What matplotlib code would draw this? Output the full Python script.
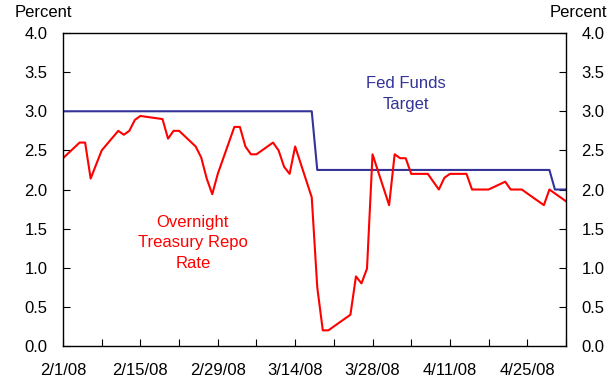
import numpy as np
import pandas as pd
import matplotlib
matplotlib.use('Agg')
import matplotlib.pyplot as plt
import matplotlib.dates as mdates
from matplotlib.ticker import MultipleLocator, FormatStrFormatter, FixedLocator

plt.rcParams['font.family'] = ['Liberation Sans', 'DejaVu Sans']

# business days, Feb 1 - May 2 2008 (Feb 18 and Mar 21 closed)
dates = pd.to_datetime([
    '2008-02-01', '2008-02-04', '2008-02-05', '2008-02-06', '2008-02-07', '2008-02-08',
    '2008-02-11', '2008-02-12', '2008-02-13', '2008-02-14', '2008-02-15',
    '2008-02-19', '2008-02-20', '2008-02-21', '2008-02-22',
    '2008-02-25', '2008-02-26', '2008-02-27', '2008-02-28', '2008-02-29',
    '2008-03-03', '2008-03-04', '2008-03-05', '2008-03-06', '2008-03-07',
    '2008-03-10', '2008-03-11', '2008-03-12', '2008-03-13', '2008-03-14',
    '2008-03-17', '2008-03-18', '2008-03-19', '2008-03-20',
    '2008-03-24', '2008-03-25', '2008-03-26', '2008-03-27', '2008-03-28',
    '2008-03-31', '2008-04-01', '2008-04-02', '2008-04-03', '2008-04-04',
    '2008-04-07', '2008-04-08', '2008-04-09', '2008-04-10', '2008-04-11',
    '2008-04-14', '2008-04-15', '2008-04-16', '2008-04-17', '2008-04-18',
    '2008-04-21', '2008-04-22', '2008-04-23', '2008-04-24', '2008-04-25',
    '2008-04-28', '2008-04-29', '2008-04-30', '2008-05-01', '2008-05-02',
])

repo_rate = [
    2.40, 2.60, 2.60, 2.14, 2.32, 2.50,
    2.75, 2.70, 2.75, 2.89, 2.94,
    2.90, 2.65, 2.75, 2.75,
    2.55, 2.41, 2.14, 1.94, 2.20,
    2.80, 2.80, 2.55, 2.45, 2.45,
    2.60, 2.50, 2.29, 2.20, 2.55,
    1.90, 0.75, 0.20, 0.20,
    0.40, 0.89, 0.80, 0.99, 2.45,
    1.80, 2.45, 2.40, 2.40, 2.20,
    2.20, 2.10, 2.00, 2.15, 2.20,
    2.20, 2.00, 2.00, 2.00, 2.00,
    2.10, 2.00, 2.00, 2.00, 1.95,
    1.80, 2.00, 1.95, 1.90, 1.85,
]

fed_target = [3.00] * 31 + [2.25] * 30 + [2.00] * 3

tick_dates = pd.date_range('2008-02-01', '2008-04-25', freq='14D')
week_dates = pd.date_range('2008-02-01', '2008-05-02', freq='7D')

red = '#ff0000'
blue = '#333399'

fig = plt.figure(figsize=(6.16, 3.87), dpi=100)
ax = fig.add_axes([0.1023, 0.1059, 0.8165, 0.8088])

ax.plot(dates, fed_target, color=blue, lw=1.5)
ax.plot(dates, repo_rate, color=red, lw=1.5)

ax.set_xlim(pd.Timestamp('2008-02-01'), pd.Timestamp('2008-05-02'))
ax.set_ylim(0, 4)

ax.set_xticks(tick_dates)
ax.set_xticklabels(['{}/{}/{}'.format(d.month, d.day, d.strftime('%y')) for d in tick_dates])
ax.xaxis.set_minor_locator(FixedLocator(mdates.date2num(week_dates)))

ax.yaxis.set_major_locator(MultipleLocator(0.5))
ax.yaxis.set_major_formatter(FormatStrFormatter('%.1f'))

ax.tick_params(axis='x', which='both', direction='in', length=5, width=0.8,
               pad=12, labelsize=12, colors='black')
ax.tick_params(axis='y', direction='in', length=5, width=0.8, pad=11,
               labelsize=12, left=True, right=True, labelleft=True, labelright=True)

for s in ax.spines.values():
    s.set_linewidth(1.0)

fig.text(0.023, 0.967, 'Percent', fontsize=12, ha='left', va='center')
fig.text(0.985, 0.967, 'Percent', fontsize=12, ha='right', va='center')

ax.text(pd.Timestamp('2008-04-03'), 3.22, 'Fed Funds\nTarget', color=blue,
        fontsize=12, ha='center', va='center', linespacing=1.45)
ax.text(pd.Timestamp('2008-02-24 12:00'), 1.32, 'Overnight\nTreasury Repo\nRate', color=red,
        fontsize=12, ha='center', va='center', linespacing=1.45)

fig.savefig('out.png', dpi=100)
